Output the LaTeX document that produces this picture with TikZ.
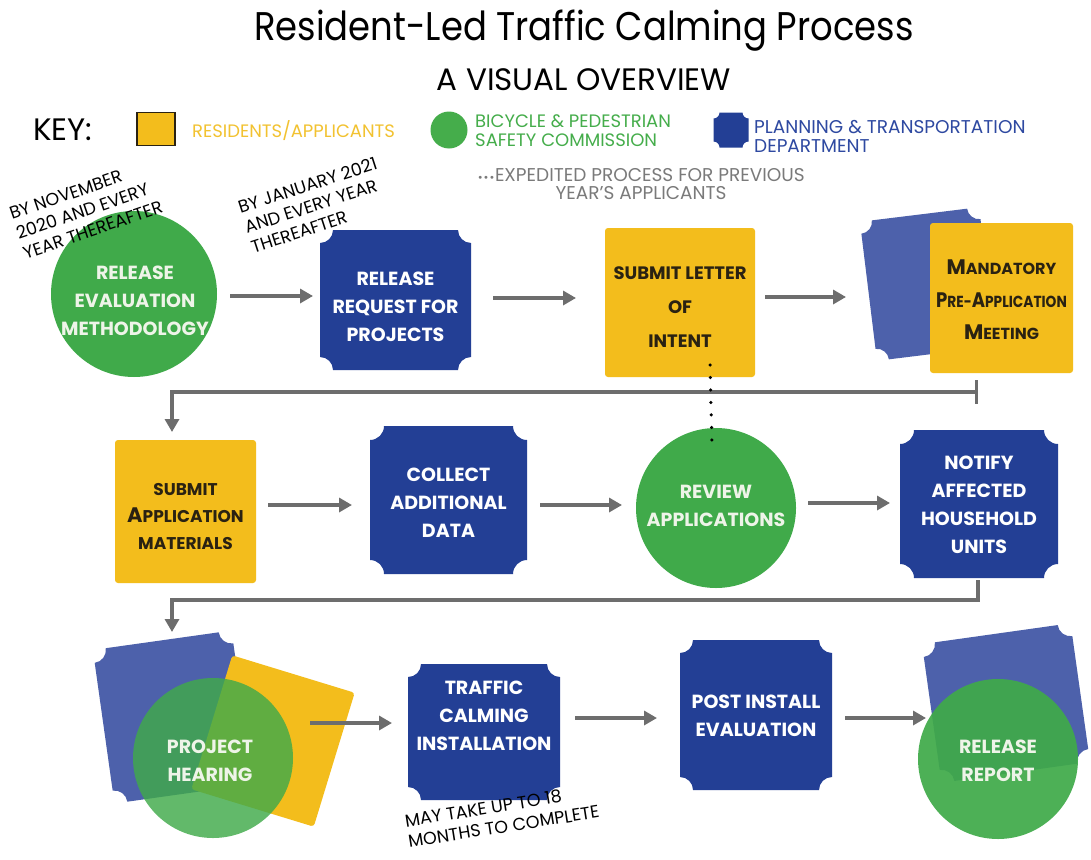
\documentclass[tikz,border=0pt]{standalone}
\usepackage{fontspec}
\setmainfont{Poppins}
\newfontfamily\titlefont{Poppins}[FakeStretch=0.885]
\newfontfamily\dejavu{DejaVu Sans}
\usetikzlibrary{calc,arrows.meta}
\definecolor{pblue}{HTML}{233F95}
\definecolor{lblue}{HTML}{4D61AB}
\definecolor{pyellow}{HTML}{F3BD1C}
\definecolor{pgreen}{HTML}{40AA4A}
\definecolor{agray}{HTML}{6D6D6D}
\definecolor{ytext}{HTML}{2A2212}
\definecolor{keyyellow}{HTML}{F2C230}
\definecolor{keygreen}{HTML}{45AD4B}
\definecolor{keyblue}{HTML}{2E49A1}
\definecolor{keygray}{HTML}{7A7A7A}
\definecolor{gwhite}{HTML}{EEF4E8}
\newcommand\fakesc[3][16]{#2{\fontsize{#1}{#1}\selectfont #3}}
\newcommand\scoopnode[8]{%
  \begin{scope}[shift={(#2,#3)},rotate=#7]
    \fill[#8] ({-#4/2+#6},{-#5/2}) -- ({#4/2-#6},{-#5/2}) arc[start angle=180,end angle=90,radius=#6]
      -- ({#4/2},{#5/2-#6}) arc[start angle=270,end angle=180,radius=#6]
      -- ({-#4/2+#6},{#5/2}) arc[start angle=0,end angle=-90,radius=#6]
      -- ({-#4/2},{-#5/2+#6}) arc[start angle=90,end angle=0,radius=#6] -- cycle;
  \end{scope}
  \node[boxarea,minimum width=#4pt,minimum height=#5pt] (#1) at (#2,#3) {};}
\begin{document}
\begin{tikzpicture}[x=1pt,y=-1pt,
  arr/.style={draw=agray,line width=4pt,-{Triangle[length=13pt,width=14pt]}},
  conn/.style={draw=agray,line width=4pt},
  boxarea/.style={inner sep=0pt,outer sep=0pt,draw=none},
  wtext/.style={text=white,font=\fontsize{19}{28}\selectfont\bfseries,align=center,inner sep=0pt},
  gtext/.style={text=gwhite,font=\fontsize{19}{28}\selectfont\bfseries,align=center,inner sep=0pt},
  ytextst/.style={text=ytext,font=\fontsize{18}{34}\selectfont\bfseries,align=center,inner sep=0pt},
  ybox/.style={fill=pyellow,rounded corners=3pt,inner sep=0pt,outer sep=0pt},
  gcirc/.style={circle,fill=pgreen,inner sep=0pt,outer sep=0pt},
  note/.style={font=\fontsize{17.5}{21}\selectfont,align=left,inner sep=0pt},
  keylab/.style={anchor=west,align=left,font=\fontsize{18}{19}\selectfont,inner sep=0pt},
  dotline/.style={line width=3.5pt,line cap=round,dash pattern=on 0pt off 12.5pt,draw=black}]
\fill[white] (0,0) rectangle (1091,859);
\useasboundingbox (0,0) rectangle (1091,859);
% title
\node[font=\titlefont\fontsize{40}{40}\selectfont] (title) at (584,31) {Resident-Led Traffic Calming Process};
\node[font=\fontsize{31}{31}\selectfont] (sub) at (584,80) {A VISUAL OVERVIEW};
% key
\node[font=\fontsize{31}{31}\selectfont,anchor=west,inner sep=0pt] (key) at (33,130) {KEY:};
\node[fill=pyellow,draw=ytext,line width=1.5pt,minimum width=38pt,minimum height=33pt,inner sep=0pt] (kres) at (156,129) {};
\node[keylab,text=keyyellow] (kresl) at (192,131) {RESIDENTS/APPLICANTS};
\node[gcirc,fill=keygreen,minimum size=37pt] (kbp) at (449,130) {};
\node[keylab,text=keygreen] (kbpl) at (475,131) {BICYCLE \& PEDESTRIAN\\SAFETY COMMISSION};
\scoopnode{kpt}{731}{130}{35}{35}{6}{0}{pblue}
\node[keylab,text=keyblue,font=\fontsize{18.5}{19}\selectfont] (kptl) at (754,136) {PLANNING \& TRANSPORTATION\\DEPARTMENT};
\node[text=keygray,align=center,font=\fontsize{18.5}{18}\selectfont,inner sep=0pt] (kexp) at (641,184) {{\dejavu\fontsize{10}{10}\selectfont •••}EXPEDITED PROCESS FOR PREVIOUS\\YEAR’S APPLICANTS};
% row 1
\node[gcirc,minimum size=166pt] (rem) at (134,294) {};
\node[gtext] (remt) at (135,301) {RELEASE\\EVALUATION\\METHODOLOGY};
\node[note,rotate=19] (n1) at (86,210) {BY NOVEMBER\\2020 AND EVERY\\YEAR THEREAFTER};
\scoopnode{rrp}{395.5}{300}{151}{140}{13}{0}{pblue}
\node[wtext] (rrpt) at (395.5,307) {RELEASE\\REQUEST FOR\\PROJECTS};
\node[note,rotate=18] (n2) at (314,205) {BY JANUARY 2021\\AND EVERY YEAR\\THEREAFTER};
\node[ybox,minimum width=150pt,minimum height=149pt] (loi) at (680,302.5) {};
\node[ytextst] (loit) at (680,307) {SUBMIT LETTER\\OF\\INTENT};
\scoopnode{mandbg}{928}{284}{120}{140}{12}{7}{lblue}
\node[ybox,minimum width=143pt,minimum height=150pt] (mand) at (1001.5,298) {};
\node[ytextst,font=\fontsize{21}{32.5}\selectfont\bfseries] (mandt) at (1001.5,300) {\fakesc[16]{M}{ANDATORY}\\\scalebox{0.86}[1]{\fakesc[16]{P}{RE-}\fakesc[16]{A}{PPLICATION}}\\\fakesc[16]{M}{EETING}};
% row 2
\node[ybox,minimum width=141pt,minimum height=143pt] (sam) at (185.5,511.5) {};
\node[ytextst,font=\fontsize{21}{27}\selectfont\bfseries] (samt) at (185.5,516) {\fakesc[17]{}{SUBMIT}\\\fakesc[17]{A}{PPLICATION}\\\fakesc[17]{}{MATERIALS}};
\scoopnode{cad}{448.5}{500}{157}{148}{14}{0}{pblue}
\node[wtext] (cadt) at (448.5,503) {COLLECT\\ADDITIONAL\\DATA};
\node[gcirc,minimum size=160pt] (rev) at (716,508) {};
\node[gtext] (revt) at (716,506) {REVIEW\\APPLICATIONS};
\scoopnode{notify}{979}{504}{158}{148}{14}{0}{pblue}
\node[wtext] (notifyt) at (979,505) {NOTIFY\\AFFECTED\\HOUSEHOLD\\UNITS};
% row 3
\scoopnode{phbg}{173}{717}{140}{155}{13}{8}{lblue}
\node[ybox,rotate=-17,minimum width=128pt,minimum height=140pt] (phy) at (273,741) {};
\node[gcirc,fill opacity=0.82,minimum size=160pt] (ph) at (213,758) {};
\node[gtext] (pht) at (210,761) {PROJECT\\HEARING};
\scoopnode{tci}{484}{732}{152}{136}{13}{0}{pblue}
\node[wtext] (tcit) at (484,716) {TRAFFIC\\CALMING\\INSTALLATION};
\scoopnode{pie}{756}{715}{152}{150}{13}{0}{pblue}
\node[wtext] (piet) at (756,716) {POST INSTALL\\EVALUATION};
\scoopnode{rrbg}{1006}{703}{150}{140}{13}{8}{lblue}
\node[gcirc,fill opacity=0.93,minimum size=160pt] (rr) at (998,759) {};
\node[gtext] (rrt) at (998,761) {RELEASE\\REPORT};
\node[note,rotate=9] (n3) at (502,816) {MAY TAKE UP TO 18\\MONTHS TO COMPLETE};
% connectors
\draw[arr] ($(rem.east)+(13,2)$) coordinate (t1) -- ($(t1 -| rrp.west)+(-7,0)$);
\draw[arr] ($(rrp.east)+(22,-2)$) coordinate (t2) -- ($(t2 -| loi.west)+(-29,0)$);
\draw[arr] ($(loi.east)+(10,-5.5)$) coordinate (t3) -- ($(t3 -| mand.west)+(-84,0)$);
\draw[arr] ($(sam.east)+(12,-6.5)$) coordinate (t4) -- ($(t4 -| cad.west)+(-18,0)$);
\draw[arr] ($(cad.east)+(13,5)$) coordinate (t5) -- ($(t5 -| rev.west)+(-14,0)$);
\draw[arr] ($(rev.east)+(12,-5)$) coordinate (t6) -- ($(t6 -| notify.west)+(-10,0)$);
\draw[arr] ($(ph.east)+(17,-35)$) coordinate (t7) -- ($(t7 -| tci.west)+(-16,0)$);
\draw[arr] ($(tci.east)+(15,-14)$) coordinate (t8) -- ($(t8 -| pie.west)+(-23,0)$);
\draw[arr] ($(pie.east)+(13,3)$) coordinate (t9) -- ($(t9 -| rr.west)+(8,0)$);
\draw[conn,{Bar[width=24pt,line width=3pt]}-{Triangle[length=13pt,width=14pt]}] ($(mand.south)+(-23.5,19)$) -| ($(sam.north)+(-13.5,-8)$);
\draw[conn,-{Triangle[length=13pt,width=14pt]}] ($(notify.south)+(-1,2)$) -- ++(0,20) -| ($(phbg.north)+(-1,-7.5)$);
\draw[dotline] ($(loi.south)+(30,-12)$) -- ($(rev.north)+(-4,18)$);
\end{tikzpicture}
\end{document}
